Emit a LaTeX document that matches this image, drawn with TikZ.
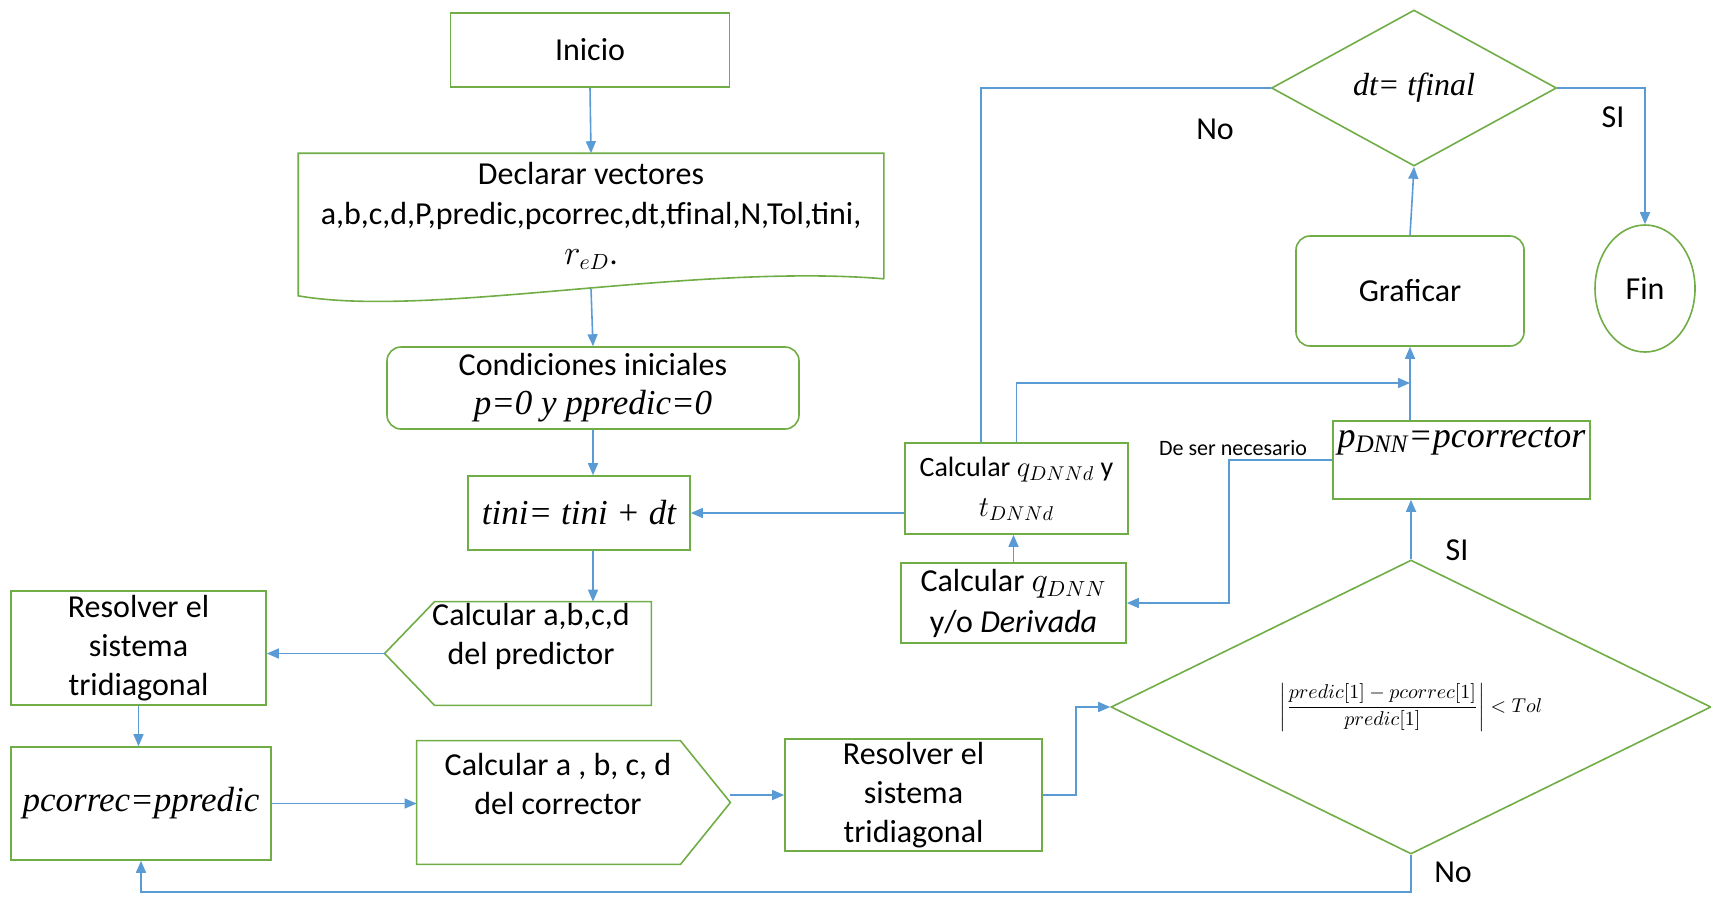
\documentclass[tikz,border=0pt]{standalone}
\usepackage{amsmath}
\usepackage{fontspec}
\setmainfont{Carlito}
\newfontfamily\cambria{Liberation Serif}
\usetikzlibrary{shapes.geometric,arrows.meta,positioning}
\definecolor{boxgreen}{RGB}{112,173,71}
\definecolor{lineblue}{RGB}{91,155,213}
\tikzset{
  flowbox/.style={draw=boxgreen,line width=0.8pt,inner sep=0pt,align=center,font=\fontsize{16}{19.5}\selectfont},
  flowline/.style={lineblue,line width=0.8pt},
  mathtext/.style={font=\fontsize{17.5}{20}\selectfont\cambria\itshape},
}
\begin{document}
\begin{tikzpicture}[x=0.5pt,y=-0.5pt,>={Triangle[length=6pt,width=5pt]}]
\useasboundingbox (0,0) rectangle (1711,896);
% Start and declarations
\node[flowbox,minimum width=139.5pt,minimum height=37pt] (inicio) at (590,50) {Inicio};
\node[flowbox,draw=none,font=\fontsize{16}{20}\selectfont,minimum width=292pt,minimum height=62pt] (decl) at (591,216) {Declarar vectores\\a,b,c,d,P,predic,pcorrec,dt,tfinal,N,Tol,tini,\\$r_{eD}$.};
\draw[boxgreen,line width=0.8pt] (decl.south east) -- (decl.north east) -- (decl.north west) -- ([yshift=-8.5pt]decl.south west) .. controls ([xshift=65.5pt,yshift=-20pt]decl.south west) and ([xshift=-96.5pt,yshift=8pt]decl.south east) .. (decl.south east);
\node[flowbox,rounded corners=7pt,minimum width=206pt,minimum height=41pt] (condic) at (593,388) {Condiciones iniciales\\{\fontsize{17.5}{20}\selectfont\cambria\itshape p=0 y ppredic=0}};
\node[flowbox,mathtext,minimum width=111pt,minimum height=37pt] (tini) at (579,513) {tini= tini + dt};
% Predictor
\node[minimum width=133pt,minimum height=51.5pt,inner sep=0pt,label={[flowbox,draw=none,xshift=6.5pt,yshift=8.75pt]center:{Calcular a,b,c,d\\del predictor}}] (pred) at (518,653.5) {};
\draw[boxgreen,line width=0.8pt] (pred.north east) -- ([xshift=25pt]pred.north west) -- (pred.west) -- ([xshift=25pt]pred.south west) -- (pred.south east) -- cycle;
\node[flowbox,minimum width=127.5pt,minimum height=57pt] (res1) at (138.5,648) {Resolver el\\sistema\\tridiagonal};
% Corrector
\node[flowbox,mathtext,minimum width=130pt,minimum height=56.5pt] (pcorr) at (141,803.5) {pcorrec=ppredic};
\node[minimum width=156.5pt,minimum height=61.5pt,inner sep=0pt,label={[flowbox,draw=none,xshift=-7.75pt,yshift=9.25pt]center:{Calcular a , b, c, d\\del corrector}}] (corr) at (573.5,802.5) {};
\draw[boxgreen,line width=0.8pt] (corr.north west) -- ([xshift=-25pt]corr.north east) -- (corr.east) -- ([xshift=-25pt]corr.south east) -- (corr.south west) -- cycle;
\node[flowbox,minimum width=128.5pt,minimum height=56pt] (res2) at (913.5,795) {Resolver el\\sistema\\tridiagonal};
\node[flowbox,diamond,aspect=2,minimum width=300pt,minimum height=147pt,font=\fontsize{10}{12}\selectfont] (dec1) at (1411,707) {$\left|\dfrac{predic[1]-pcorrec[1]}{predic[1]}\right|<Tol$};
% Right side
\node[flowbox,minimum width=128.5pt,minimum height=39pt,label={[yshift=9.5pt,font=\fontsize{18}{20}\selectfont\cambria\itshape]center:{p\textsubscript{DNN}=pcorrector}}] (pdnn) at (1461.5,460) {};
\node[flowbox,minimum width=111.5pt,minimum height=45.5pt,font=\fontsize{14}{20}\selectfont] (qdnnd) at (1016.5,488.5) {Calcular $q_{DNNd}$ y\\$t_{DNNd}$};
\node[flowbox,minimum width=112.5pt,minimum height=40pt,font=\fontsize{16}{20.5}\selectfont] (qdnn) at (1013.5,603) {Calcular $q_{DNN}$\\y/o \textit{Derivada}};
\node[flowbox,rounded corners=7pt,minimum width=114pt,minimum height=55pt] (graf) at (1410,291) {Graficar};
\node[flowbox,diamond,aspect=1.8,mathtext,font=\fontsize{16}{20}\selectfont\cambria\itshape,minimum width=142.5pt,minimum height=78pt] (dec2) at (1414,88) {dt= tfinal};
\node[flowbox,ellipse,minimum width=50pt,minimum height=63.5pt] (fin) at (1645,288.5) {Fin};
% Branch labels
\node[font=\fontsize{16}{19}\selectfont] (no1) at (1215,129) {No};
\node[font=\fontsize{16}{19}\selectfont] (si1) at (1613,117) {SI};
\node[font=\fontsize{16}{19}\selectfont] (si2) at (1457,550) {SI};
\node[font=\fontsize{16}{19}\selectfont] (no2) at (1453,872) {No};
\node[font=\fontsize{11}{13}\selectfont] (necesario) at (1233,448) {De ser necesario};
% Connectors
\draw[flowline,->] (inicio.south) -- (decl.north);
\draw[flowline,->] ([yshift=-5pt]decl.south) -- (condic.north);
\draw[flowline,->] (condic.south) -- (condic.south |- tini.north);
\draw[flowline,->] (condic.south |- tini.south) -- (condic.south |- pred.north);
\draw[flowline,->] (pred.west) -- (pred.west -| res1.east);
\draw[flowline,->] (res1.south) -- (res1.south |- pcorr.north);
\draw[flowline,->] (pcorr.east) -- (pcorr.east -| corr.west);
\draw[flowline,->] (corr.east |- res2.west) -- (res2.west);
\draw[flowline,->] (res2.east) -- ++(33,0) |- (dec1.west);
\draw[flowline,->] (dec1.north) -- (dec1.north |- pdnn.south);
\draw[flowline,->] (dec1.south) -- ++(0,37) -| (pcorr.south);
\draw[flowline,->] (pdnn.west) -- ++(-103,0) |- (qdnn.east);
\draw[flowline,->] (qdnn.north) -- (qdnn.north |- qdnnd.south);
\draw[flowline,->] (qdnnd.west |- tini.east) -- (tini.east);
\draw[flowline,->] (qdnnd.north) |- (graf.south |- 0,383);
\draw[flowline,->] (graf.south |- pdnn.north) -- (graf.south);
\draw[flowline,->] (graf.north) -- (dec2.south);
\draw[flowline,->] (dec2.east) -| (fin.north);
\draw[flowline] (dec2.west) -| ([xshift=-17.75pt]qdnnd.north);
\end{tikzpicture}
\end{document}
